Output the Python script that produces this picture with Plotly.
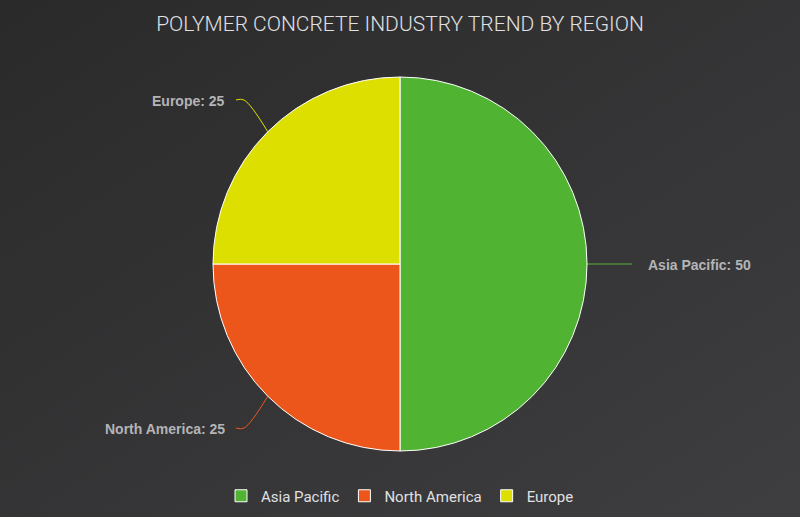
import base64, math
import plotly.graph_objects as go

# Data
regions = ["Asia Pacific", "North America", "Europe"]
values = [50, 25, 25]
colors = ["#50B432", "#ED561B", "#DDDF00"]
title_text = "POLYMER CONCRETE INDUSTRY TREND BY REGION"

W, H = 800, 517
cx, cy, r = 400, 264, 187

fig = go.Figure()

fig.add_trace(go.Pie(
    labels=regions, values=values, sort=False, direction="clockwise", rotation=0,
    marker=dict(colors=colors, line=dict(color="#FFFFFF", width=1)),
    textinfo="none", hoverinfo="label+value",
    domain=dict(x=[(cx - r) / W, (cx + r) / W], y=[1 - (cy + r) / H, 1 - (cy - r) / H]),
    showlegend=True,
))

# connectors and labels computed from the data values
total = sum(values)
cum = 0
annotations = []
for name, v, col in zip(regions, values, colors):
    mid = (cum + v / 2) / total * 2 * math.pi  # clockwise from 12 o'clock
    cum += v
    dx, dy = math.sin(mid), -math.cos(mid)
    p0 = (cx + r * dx, cy + r * dy)
    p2 = (cx + (r + 45) * dx, cy + (r + 45) * dy)
    side = 1 if dx >= 0 else -1
    p1 = (p2[0] - side * 8, p2[1])
    fig.add_trace(go.Scatter(
        x=[p0[0], p1[0], p2[0]], y=[p0[1], p1[1], p2[1]], mode="lines",
        line=dict(color=col, width=1, shape="spline"), showlegend=False,
        hoverinfo="skip", cliponaxis=False,
    ))
    annotations.append(dict(
        x=p2[0] + side * (14 if side > 0 else 9), y=p2[1] + 1, xref="x", yref="y",
        text=f"<b>{name}: {v}</b>", showarrow=False,
        xanchor="left" if side > 0 else "right", yanchor="middle",
        font=dict(family="Liberation Sans, Arial, sans-serif", size=14, color="#B4B4B7"),
    ))

svg = ('<svg xmlns="http://www.w3.org/2000/svg" width="800" height="517" preserveAspectRatio="none">'
       '<defs><linearGradient id="g" x1="0" y1="0" x2="1" y2="1">'
       '<stop offset="0" stop-color="#2a2a2b"/><stop offset="1" stop-color="#3e3e40"/>'
       '</linearGradient></defs><rect width="800" height="517" fill="url(#g)"/></svg>')
bg = "data:image/svg+xml;base64," + base64.b64encode(svg.encode()).decode()

cond = "Roboto, sans-serif"

fig.update_layout(
    width=W, height=H,
    margin=dict(l=0, r=0, t=0, b=0),
    paper_bgcolor="#2a2a2b", plot_bgcolor="rgba(0,0,0,0)",
    images=[dict(source=bg, xref="paper", yref="paper", x=0, y=1, sizex=1, sizey=1,
                 xanchor="left", yanchor="top", sizing="stretch", layer="below")],
    title=dict(text=title_text, x=0.5, xanchor="center", y=1 - 24 / H, yref="container",
               yanchor="middle",
               font=dict(family=cond, size=21, color="#E0E0E3", weight=300)),
    xaxis=dict(range=[0, W], visible=False, fixedrange=True),
    yaxis=dict(range=[H, 0], visible=False, fixedrange=True),
    legend=dict(orientation="h", x=0.5, xanchor="center", y=1 - 496 / H, yanchor="middle",
                font=dict(family=cond, size=15, color="#E0E0E3"),
                bgcolor="rgba(0,0,0,0)"),
    annotations=annotations,
    showlegend=True,
)

fig.write_html("out.html", config={"displayModeBar": False},
               post_script="document.body.style.margin='0';")
